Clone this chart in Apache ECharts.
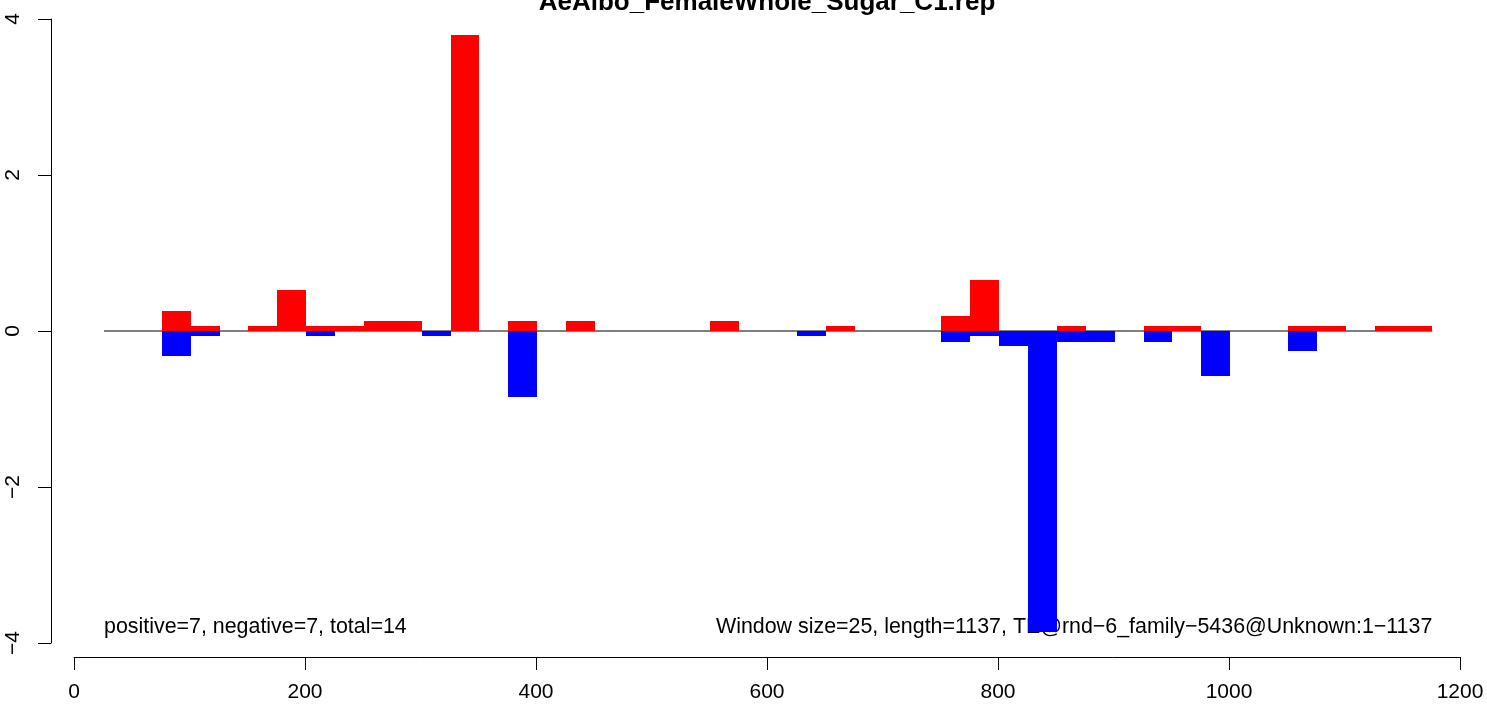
<!DOCTYPE html>
<html>
<head>
<meta charset="utf-8">
<script src="https://cdn.jsdelivr.net/npm/echarts@6/dist/echarts.min.js"></script>
<style>
html,body{margin:0;padding:0;background:#fff;}
#chart{width:1487px;height:707px;}
</style>
</head>
<body>
<div id="chart"></div>
<script>
// ---- data ----
const chartTitle = 'AeAlbo_FemaleWhole_Sugar_C1.rep';
const windowSize = 25;
const windowStarts = [26, 51, 76, 101, 126, 151, 176, 201, 226, 251,
  276, 301, 326, 351, 376, 401, 426, 451, 476, 501,
  526, 551, 576, 601, 626, 651, 676, 701, 726, 751,
  776, 801, 826, 851, 876, 901, 926, 951, 976, 1001,
  1026, 1051, 1076, 1101, 1126, 1151];
const positiveValues = [0, 0, 0.256, 0.064, 0, 0.064, 0.52, 0.064, 0.064, 0.128,
  0.128, 0, 3.79, 0, 0.128, 0, 0.128, 0, 0, 0,
  0, 0.128, 0, 0, 0, 0.064, 0, 0, 0, 0.192,
  0.654, 0, 0, 0.064, 0, 0, 0.064, 0.064, 0, 0,
  0, 0.064, 0.064, 0, 0.064, 0.064];
const negativeValues = [0, 0, -0.325, -0.07, 0, 0, 0, -0.07, 0, 0,
  0, -0.07, 0, 0, -0.84, 0, 0, 0, 0, 0,
  0, 0, 0, 0, -0.07, 0, 0, 0, 0, -0.135,
  -0.07, -0.198, -3.86, -0.135, -0.135, 0, -0.135, 0, -0.58, 0,
  0, -0.26, 0, 0, 0, 0];
const xTicks = [0, 200, 400, 600, 800, 1000, 1200];
const yTicks = [-4, -2, 0, 2, 4];
const leftNote = 'positive=7, negative=7, total=14';
const rightNote = 'Window size=25, length=1137, TE@rnd\u22126_family\u22125436@Unknown:1\u22121137';
const noteY = -3.79;

// ---- chart ----
const FONT = "'Liberation Sans', Arial, sans-serif";
const chart = echarts.init(document.getElementById('chart'), null, {renderer: 'canvas'});

function barSeries(values, color) {
  const data = [];
  windowStarts.forEach((s, i) => { if (values[i] !== 0) data.push([s, values[i]]); });
  return {
    type: 'custom',
    z: 3,
    data: data,
    encode: {x: 0, y: 1},
    renderItem: function (params, api) {
      const s = api.value(0), v = api.value(1);
      const p0 = api.coord([s, v]);
      const p1 = api.coord([s + windowSize, 0]);
      const x0 = Math.round(p0[0]), x1 = Math.round(p1[0]);
      const ya = Math.round(Math.min(p0[1], p1[1])), yb = Math.round(Math.max(p0[1], p1[1]));
      return {
        type: 'rect',
        shape: {x: x0, y: ya, width: x1 - x0, height: Math.max(1, yb - ya)},
        style: {fill: color}
      };
    }
  };
}

const notes = [
  {x: windowStarts[0], y: noteY, text: leftNote, align: 'left'},
  {x: windowStarts[windowStarts.length - 1] + windowSize, y: noteY, text: rightNote, align: 'right'}
];

const option = {
  animation: false,
  backgroundColor: '#ffffff',
  grid: {left: 74, right: 27, top: 19, bottom: 64, containLabel: false},
  xAxis: {
    type: 'value', min: xTicks[0], max: xTicks[xTicks.length - 1], interval: 200,
    offset: 14,
    axisLine: {show: true, onZero: false, lineStyle: {color: '#000', width: 1}},
    axisTick: {show: true, length: 13, lineStyle: {color: '#000', width: 1}},
    axisLabel: {show: true, margin: 25, color: '#000', fontSize: 21, fontFamily: FONT,
      formatter: v => String(v)},
    splitLine: {show: false}
  },
  yAxis: {
    type: 'value', min: yTicks[0], max: yTicks[yTicks.length - 1], interval: 2,
    offset: 23,
    axisLine: {show: true, onZero: false, lineStyle: {color: '#000', width: 1}},
    axisTick: {show: true, length: 13, lineStyle: {color: '#000', width: 1}},
    axisLabel: {show: true, rotate: 90, margin: 27, color: '#000', fontSize: 21, fontFamily: FONT,
      formatter: v => String(v).replace('-', '\u2212')},
    splitLine: {show: false}
  },
  series: [
    {
      type: 'line', z: 1, silent: true, symbol: 'none',
      data: [[windowStarts[0], 0], [windowStarts[windowStarts.length - 1] + windowSize, 0]],
      lineStyle: {color: '#555555', width: 1.3}
    },
    {
      type: 'custom', z: 1, silent: true,
      data: notes.map(n => [n.x, n.y]),
      encode: {x: 0, y: 1},
      renderItem: function (params, api) {
        const n = notes[params.dataIndex];
        const p = api.coord([n.x, n.y]);
        return {
          type: 'text',
          x: p[0], y: p[1],
          style: {text: n.text, fill: '#000', font: '21.4px ' + FONT,
            align: n.align, verticalAlign: 'middle',
            textAlign: n.align, textVerticalAlign: 'middle'}
        };
      }
    },
    barSeries(positiveValues, '#ff0000'),
    barSeries(negativeValues, '#0000ff')
  ]
};
chart.setOption(option);

const tp = chart.convertToPixel({gridIndex: 0}, [(xTicks[0] + xTicks[xTicks.length - 1]) / 2, 0]);
chart.setOption({
  graphic: [{
    type: 'text', x: tp[0], y: 3, z: 10,
    style: {text: chartTitle, fill: '#000', font: 'bold 26px ' + FONT,
      align: 'center', verticalAlign: 'middle', textAlign: 'center', textVerticalAlign: 'middle'}
  }]
});
</script>
</body>
</html>
